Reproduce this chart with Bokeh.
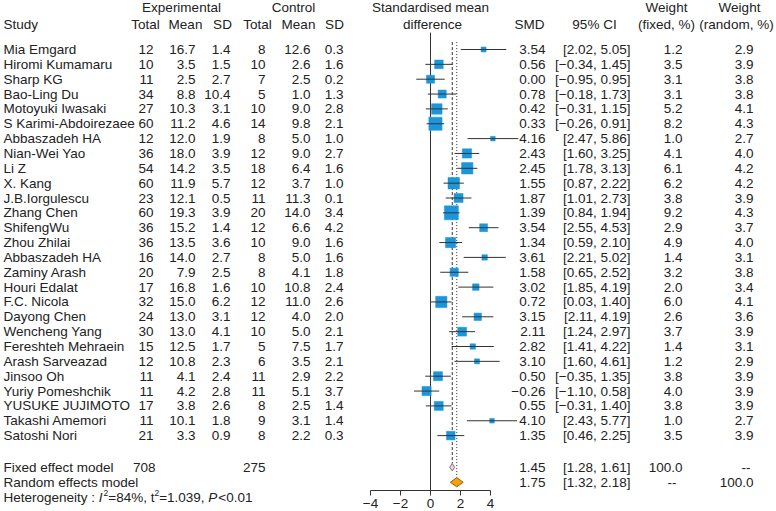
from bokeh.plotting import figure
from bokeh.models import Range1d, LinearAxis, FixedTicker
from bokeh.core.properties import value
from bokeh.embed import file_html
from bokeh.resources import INLINE
import math

# ---------------- data ----------------
studies = ["Mia Emgard", "Hiromi Kumamaru", "Sharp KG", "Bao-Ling Du", "Motoyuki Iwasaki",
           "S Karimi-Abdoirezaee", "Abbaszadeh HA", "Nian-Wei Yao", "Li Z", "X. Kang",
           "J.B.Iorgulescu", "Zhang Chen", "ShifengWu", "Zhou Zhilai", "Abbaszadeh HA",
           "Zaminy Arash", "Houri Edalat", "F.C. Nicola", "Dayong Chen", "Wencheng Yang",
           "Fereshteh Mehraein", "Arash Sarveazad", "Jinsoo Oh", "Yuriy Pomeshchik",
           "YUSUKE JUJIMOTO", "Takashi Amemori", "Satoshi Nori"]
exp_n = [12, 10, 11, 34, 27, 60, 12, 36, 54, 60, 23, 60, 36, 36, 16, 20, 17, 32, 24, 30, 15, 12, 11, 11, 17, 11, 21]
exp_mean = [16.7, 3.5, 2.5, 8.8, 10.3, 11.2, 12.0, 18.0, 14.2, 11.9, 12.1, 19.3, 15.2, 13.5, 14.0, 7.9, 16.8,
            15.0, 13.0, 13.0, 12.5, 10.8, 4.1, 4.2, 3.8, 10.1, 3.3]
exp_sd = [1.4, 1.5, 2.7, 10.4, 3.1, 4.6, 1.9, 3.9, 3.5, 5.7, 0.5, 3.9, 1.4, 3.6, 2.7, 2.5, 1.6, 6.2, 3.1, 4.1,
          1.7, 2.3, 2.4, 2.8, 2.6, 1.8, 0.9]
ctrl_n = [8, 10, 7, 5, 10, 14, 8, 12, 18, 12, 11, 20, 12, 10, 8, 8, 10, 12, 12, 10, 5, 6, 11, 11, 8, 9, 8]
ctrl_mean = [12.6, 2.6, 2.5, 1.0, 9.0, 9.8, 5.0, 9.0, 6.4, 3.7, 11.3, 14.0, 6.6, 9.0, 5.0, 4.1, 10.8, 11.0,
             4.0, 5.0, 7.5, 3.5, 2.9, 5.1, 2.5, 3.1, 2.2]
ctrl_sd = [0.3, 1.6, 0.2, 1.3, 2.8, 2.1, 1.0, 2.7, 1.6, 1.0, 0.1, 3.4, 4.2, 1.6, 1.6, 1.8, 2.4, 2.6, 2.0, 2.1,
           1.7, 2.1, 2.2, 3.7, 1.4, 1.4, 0.3]
smd = [3.54, 0.56, 0.00, 0.78, 0.42, 0.33, 4.16, 2.43, 2.45, 1.55, 1.87, 1.39, 3.54, 1.34, 3.61, 1.58, 3.02,
       0.72, 3.15, 2.11, 2.82, 3.10, 0.50, -0.26, 0.55, 4.10, 1.35]
ci_lo = [2.02, -0.34, -0.95, -0.18, -0.31, -0.26, 2.47, 1.60, 1.78, 0.87, 1.01, 0.84, 2.55, 0.59, 2.21, 0.65,
         1.85, 0.03, 2.11, 1.24, 1.41, 1.60, -0.35, -1.10, -0.31, 2.43, 0.46]
ci_hi = [5.05, 1.45, 0.95, 1.73, 1.15, 0.91, 5.86, 3.25, 3.13, 2.22, 2.73, 1.94, 4.53, 2.10, 5.02, 2.52, 4.19,
         1.40, 4.19, 2.97, 4.22, 4.61, 1.35, 0.58, 1.40, 5.77, 2.25]
w_fixed = [1.2, 3.5, 3.1, 3.1, 5.2, 8.2, 1.0, 4.1, 6.1, 6.2, 3.8, 9.2, 2.9, 4.9, 1.4, 3.2, 2.0, 6.0, 2.6, 3.7,
           1.4, 1.2, 3.8, 4.0, 3.8, 1.0, 3.5]
w_random = [2.9, 3.9, 3.8, 3.8, 4.1, 4.3, 2.7, 4.0, 4.2, 4.2, 3.9, 4.3, 3.7, 4.0, 3.1, 3.8, 3.4, 4.1, 3.6, 3.9,
            3.1, 2.9, 3.9, 3.9, 3.9, 2.7, 3.9]
fixed_est, fixed_lo, fixed_hi = 1.45, 1.28, 1.61
random_est, random_lo, random_hi = 1.75, 1.32, 2.18
axis_ticks = [-4, -2, 0, 2, 4]

# ---------------- layout ----------------
FONT_NAME = "Liberation Sans"
FONT = value(FONT_NAME)
FSZ = 13.5
FS = f"{FSZ}px"
TXT = "#222222"
n = len(studies)
rows = list(range(n))
R_H1, R_H2 = -2.83, -1.68
R_FIX, R_RAN, R_HET, R_AXIS = 28.13, 29.14, 30.17, 29.7

W, H = 776, 511
p = figure(width=W, height=H, output_backend="svg", toolbar_location=None,
           x_range=Range1d(0, W), y_range=Range1d((H - 49) / 14.85, -49 / 14.85),
           x_axis_type=None, y_axis_type=None, min_border=0)
p.outline_line_color = None
p.grid.visible = False
p.background_fill_color = "white"
p.extra_x_ranges = {"smd": Range1d((0 - 430) / 15.0, (W - 430) / 15.0)}

# Arial / Liberation Sans advance widths (em) used to chain the heterogeneity pieces
ADV = {'H': .722, 'e': .556, 't': .278, 'r': .333, 'o': .556, 'g': .556, 'n': .556, 'i': .222, 'y': .5,
       ' ': .278, ':': .278, '=': .584, '%': .889, ',': .278, '.': .278, '<': .584, 'I': .278, 'P': .667}


def tw(s, size):
    return sum(ADV.get(c, .556) for c in s) * size


def fmt(v, d):
    return f"{v:.{d}f}".replace("-", "\u2212")


def txt(x, y, t, align="left", size=FS, style="normal"):
    xs = x if isinstance(x, list) else [x] * len(t)
    ys = y if isinstance(y, list) else [y] * len(t)
    p.text(x=xs, y=ys, text=t, text_align=align, text_baseline="middle",
           text_font=FONT, text_font_size=size, text_color=TXT, text_font_style=style)


# headers
txt(181, R_H1, ["Experimental"], "center")
txt(293, R_H1, ["Control"], "center")
txt(3, R_H2, ["Study"])
for xc, lab in zip([145, 185, 222, 257, 298, 334], ["Total", "Mean", "SD", "Total", "Mean", "SD"]):
    txt(xc, R_H2, [lab], "center")
txt(430, R_H1, ["Standardised mean"], "center")
txt(432, R_H2, ["difference"], "center")
txt(544, R_H2, ["SMD"], "right")
txt(594, R_H2, ["95% CI"], "center")
txt(666, R_H1, ["Weight"], "center")
txt(666, R_H2, ["(fixed, %)"], "center")
txt(739, R_H1, ["Weight"], "center")
txt(736, R_H2, ["(random, %)"], "center")

# study rows
txt(3, rows, studies)
txt(153, rows, [str(v) for v in exp_n], "right")
txt(195, rows, [fmt(v, 1) for v in exp_mean], "right")
txt(230, rows, [fmt(v, 1) for v in exp_sd], "right")
txt(265, rows, [str(v) for v in ctrl_n], "right")
txt(310, rows, [fmt(v, 1) for v in ctrl_mean], "right")
txt(343, rows, [fmt(v, 1) for v in ctrl_sd], "right")
txt(545, rows, [fmt(v, 2) for v in smd], "right")
txt(630, rows, [f"[{fmt(a, 2)}, {fmt(b, 2)}]" for a, b in zip(ci_lo, ci_hi)], "right")
txt(682, rows, [fmt(v, 1) for v in w_fixed], "right")
txt(753, rows, [fmt(v, 1) for v in w_random], "right")

# summary rows
txt(3, R_FIX, ["Fixed effect model"])
txt(3, R_RAN, ["Random effects model"])
txt(155, R_FIX, [str(sum(exp_n))], "right")
txt(265, R_FIX, [str(sum(ctrl_n))], "right")
txt(545, [R_FIX, R_RAN], [fmt(fixed_est, 2), fmt(random_est, 2)], "right")
txt(630, [R_FIX, R_RAN], [f"[{fmt(fixed_lo, 2)}, {fmt(fixed_hi, 2)}]",
                          f"[{fmt(random_lo, 2)}, {fmt(random_hi, 2)}]"], "right")
txt(682, R_FIX, ["100.0"], "right")
txt(676, R_RAN, ["--"], "right")
txt(750, R_FIX, ["--"], "right")
txt(753, R_RAN, ["100.0"], "right")

# heterogeneity line (pieces chained by width)
SUP = 8.5
SUP_DY = -0.33
pieces = [("Heterogeneity : ", FSZ, "normal", 0), ("I", FSZ, "italic", 0), ("2", SUP, "normal", SUP_DY),
          ("=84%, t", FSZ, "normal", 0), ("2", SUP, "normal", SUP_DY), ("=1.039, ", FSZ, "normal", 0),
          ("P", FSZ, "italic", 0), ("<0.01", FSZ, "normal", 0)]
xcur = 3.0
for s, sz, st, dy in pieces:
    txt(xcur, R_HET + dy, [s], size=f"{sz}px", style=st)
    xcur += tw(s, sz) + (1.0 if st == "italic" else 0.0)

# ---------------- forest ----------------
LINE = "#333333"
p.segment(x0=[0], y0=[-1.14], x1=[0], y1=[R_AXIS], x_range_name="smd", line_color=LINE, line_width=1)
p.segment(x0=[fixed_est], y0=[-0.5], x1=[fixed_est], y1=[R_FIX - 0.25], x_range_name="smd",
          line_color=LINE, line_width=1, line_dash="3 2")
p.segment(x0=[random_est], y0=[-0.5], x1=[random_est], y1=[R_RAN - 0.3], x_range_name="smd",
          line_color=LINE, line_width=1, line_dash="1 2")

wmax = max(w_fixed)
sizes = [14.0 * math.sqrt(w / wmax) for w in w_fixed]
p.scatter(x=smd, y=rows, size=sizes, marker="square", x_range_name="smd",
          fill_color="#1c96da", line_color="#1c96da", line_width=0.5)
p.segment(x0=ci_lo, y0=rows, x1=ci_hi, y1=rows, x_range_name="smd", line_color=LINE, line_width=1)

p.patch(x=[fixed_lo, fixed_est, fixed_hi, fixed_est], y=[R_FIX, R_FIX - 0.25, R_FIX, R_FIX + 0.25],
        x_range_name="smd", fill_color="#e6d3dc", line_color="#8c7180", line_width=1)
p.patch(x=[random_lo, random_est, random_hi, random_est], y=[R_RAN, R_RAN - 0.31, R_RAN, R_RAN + 0.31],
        x_range_name="smd", fill_color="#f2a20e", line_color="#9a5f00", line_width=1)

ax = LinearAxis(x_range_name="smd", fixed_location=R_AXIS, bounds=(-4, 4),
                ticker=FixedTicker(ticks=axis_ticks))
ax.major_label_overrides = {t: fmt(t, 0) for t in axis_ticks}
ax.major_tick_out = 5
ax.major_tick_in = 0
ax.minor_tick_line_color = None
ax.axis_line_color = LINE
ax.major_tick_line_color = LINE
ax.major_label_text_font = FONT_NAME
ax.major_label_text_font_size = FS
ax.major_label_text_color = TXT
ax.major_label_standoff = 3
p.add_layout(ax, "below")

open("out.html", "w").write(file_html(p, INLINE))
